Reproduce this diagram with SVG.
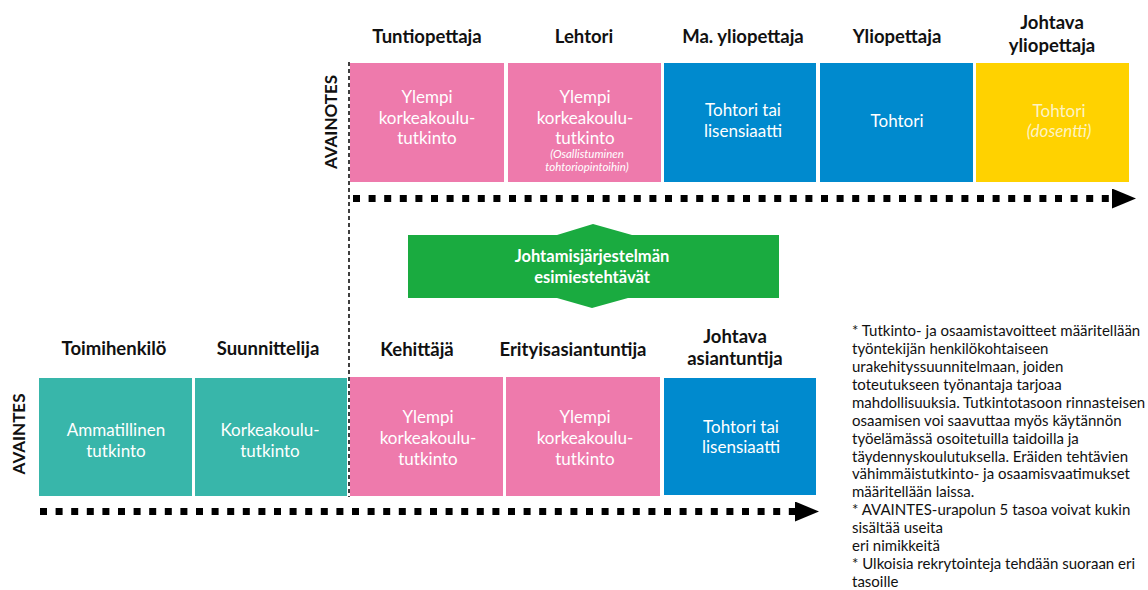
<svg xmlns="http://www.w3.org/2000/svg" width="1148" height="590" viewBox="0 0 1148 590">
<style>
  .hdr { font-family: Lato, "Noto Sans", sans-serif; font-weight: bold; font-size: 18.5px; fill: #111; text-anchor: middle; }
  .bx { font-family: Lato, "Noto Sans", sans-serif; font-size: 17px; fill: #ffffff; text-anchor: middle; }
  .sm { font-family: Lato, "Noto Sans", sans-serif; font-size: 11.5px; font-style: italic; fill: #ffffff; text-anchor: middle; }
  .it { font-style: italic; }
  .side { font-family: Lato, "Noto Sans", sans-serif; font-weight: bold; font-size: 17px; fill: #111; text-anchor: middle; }
  .note { font-family: Lato, "Noto Sans", sans-serif; font-size: 15px; fill: #111; }
  .gt { font-family: Lato, "Noto Sans", sans-serif; font-weight: bold; font-size: 16.5px; fill: #ffffff; text-anchor: middle; }
  .pink { fill: #ee7aac; }
  .blue { fill: #008ace; }
  .teal { fill: #38b6aa; }
  .yellow { fill: #ffd200; }
  .dash { stroke: #000; stroke-width: 7; stroke-dasharray: 7 8.6; fill: none; }
</style>
<defs>
  <marker id="ah" viewBox="0 0 24 20" refX="0" refY="10" markerWidth="24" markerHeight="20" markerUnits="userSpaceOnUse" orient="auto">
    <path d="M0,0 L24,10 L0,20 z" fill="#000"/>
  </marker>
</defs>
<rect width="1148" height="590" fill="#ffffff"/>

<g id="connectors">
  <line x1="349" y1="62" x2="349" y2="497" stroke="#000" stroke-width="1.5" stroke-dasharray="4 3"/>
  <line class="dash" x1="353" y1="198.5" x2="1112" y2="198.5" marker-end="url(#ah)"/>
  <line class="dash" x1="40" y1="511.5" x2="795" y2="511.5" marker-end="url(#ah)"/>
</g>

<g id="label-avainotes"><text class="side" transform="translate(337,122) rotate(-90)">AVAINOTES</text></g>
<g id="label-avaintes"><text class="side" transform="translate(25,434) rotate(-90)">AVAINTES</text></g>

<g id="tuntiopettaja">
  <text class="hdr" x="427" y="43">Tuntiopettaja</text>
  <rect class="pink" x="350" y="63" width="154" height="119"/>
  <text class="bx" x="427" y="103">Ylempi</text>
  <text class="bx" x="427" y="124">korkeakoulu-</text>
  <text class="bx" x="427" y="144">tutkinto</text>
</g>
<g id="lehtori">
  <text class="hdr" x="584" y="43">Lehtori</text>
  <rect class="pink" x="508" y="63" width="153" height="119"/>
  <text class="bx" x="585" y="103">Ylempi</text>
  <text class="bx" x="585" y="124">korkeakoulu-</text>
  <text class="bx" x="585" y="144">tutkinto</text>
  <text class="sm" x="587" y="158">(Osallistuminen</text>
  <text class="sm" x="587" y="171">tohtoriopintoihin)</text>
</g>
<g id="ma-yliopettaja">
  <text class="hdr" x="743" y="43">Ma. yliopettaja</text>
  <rect class="blue" x="664" y="63" width="152" height="119"/>
  <text class="bx" x="743" y="116">Tohtori tai</text>
  <text class="bx" x="743" y="137">lisensiaatti</text>
</g>
<g id="yliopettaja">
  <text class="hdr" x="897" y="43">Yliopettaja</text>
  <rect class="blue" x="820" y="63" width="153" height="119"/>
  <text class="bx" x="897" y="127">Tohtori</text>
</g>
<g id="johtava-yliopettaja">
  <text class="hdr" x="1052" y="29">Johtava</text>
  <text class="hdr" x="1052" y="52">yliopettaja</text>
  <rect class="yellow" x="976" y="63" width="153" height="119"/>
  <text class="bx" x="1059" y="117" style="fill:#fdf3c4">Tohtori</text>
  <text class="bx it" x="1059" y="137" style="fill:#fdf3c4">(dosentti)</text>
</g>

<g id="esimiestehtavat">
  <polygon points="408,235 557,235 593,224 632,235 779,235 779,298 628,298 592,308 557,298 408,298" fill="#1aab40"/>
  <text class="gt" x="592" y="262">Johtamisjärjestelmän</text>
  <text class="gt" x="592" y="283">esimiestehtävät</text>
</g>

<g id="toimihenkilo">
  <text class="hdr" x="114" y="355">Toimihenkilö</text>
  <rect class="teal" x="39" y="378" width="153" height="118"/>
  <text class="bx" x="116" y="436">Ammatillinen</text>
  <text class="bx" x="116" y="457">tutkinto</text>
</g>
<g id="suunnittelija">
  <text class="hdr" x="268" y="355">Suunnittelija</text>
  <rect class="teal" x="195" y="378" width="152" height="118"/>
  <text class="bx" x="270" y="436">Korkeakoulu-</text>
  <text class="bx" x="270" y="457">tutkinto</text>
</g>
<g id="kehittaja">
  <text class="hdr" x="417" y="356">Kehittäjä</text>
  <rect class="pink" x="350" y="377" width="153" height="119"/>
  <text class="bx" x="428" y="423">Ylempi</text>
  <text class="bx" x="428" y="444">korkeakoulu-</text>
  <text class="bx" x="428" y="465">tutkinto</text>
</g>
<g id="erityisasiantuntija">
  <text class="hdr" x="573" y="356">Erityisasiantuntija</text>
  <rect class="pink" x="506" y="377" width="154" height="119"/>
  <text class="bx" x="585" y="423">Ylempi</text>
  <text class="bx" x="585" y="444">korkeakoulu-</text>
  <text class="bx" x="585" y="465">tutkinto</text>
</g>
<g id="johtava-asiantuntija">
  <text class="hdr" x="735" y="343">Johtava</text>
  <text class="hdr" x="735" y="365">asiantuntija</text>
  <rect class="blue" x="664" y="378" width="152" height="117"/>
  <text class="bx" x="741" y="433">Tohtori tai</text>
  <text class="bx" x="741" y="453">lisensiaatti</text>
</g>

<g id="note">
  <text class="note" x="852" y="336">* Tutkinto- ja osaamistavoitteet määritellään</text>
  <text class="note" x="852" y="354">työntekijän henkilökohtaiseen</text>
  <text class="note" x="852" y="372">urakehityssuunnitelmaan, joiden</text>
  <text class="note" x="852" y="390">toteutukseen työnantaja tarjoaa</text>
  <text class="note" x="852" y="408">mahdollisuuksia. Tutkintotasoon rinnasteisen</text>
  <text class="note" x="852" y="426">osaamisen voi saavuttaa myös käytännön</text>
  <text class="note" x="852" y="444">työelämässä osoitetuilla taidoilla ja</text>
  <text class="note" x="852" y="462">täydennyskoulutuksella. Eräiden tehtävien</text>
  <text class="note" x="852" y="479">vähimmäistutkinto- ja osaamisvaatimukset</text>
  <text class="note" x="852" y="497">määritellään laissa.</text>
  <text class="note" x="852" y="515">* AVAINTES-urapolun 5 tasoa voivat kukin</text>
  <text class="note" x="852" y="533">sisältää useita</text>
  <text class="note" x="852" y="551">eri nimikkeitä</text>
  <text class="note" x="852" y="569">* Ulkoisia rekrytointeja tehdään suoraan eri</text>
  <text class="note" x="852" y="587">tasoille</text>
</g>
</svg>
